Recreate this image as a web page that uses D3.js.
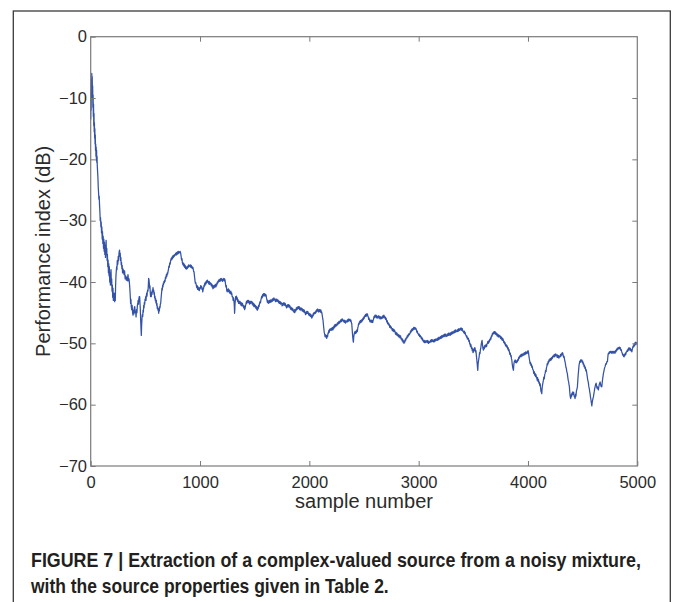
<!DOCTYPE html>
<html>
  <head>
    <meta charset="utf-8" />
    <title>Performance index</title>
    <script src="https://d3js.org/d3.v7.min.js"></script>
    <style>
        body{
            margin: 0;
            background: #fff;
        }
        text{
            font-family: "Liberation Sans", Arial, Helvetica, sans-serif;
        }
    </style>
  </head>
  <body>
    <svg id="vis"></svg>

    <script>
        // x ticks / y ticks
        var xTicks = [0, 1000, 2000, 3000, 4000, 5000];
        var yTicks = [0, -10, -20, -30, -40, -50, -60, -70];

        var xLabel = "sample number";
        var yLabel = "Performance index (dB)";
        var caption = [
            "FIGURE 7 | Extraction of a complex-valued source from a noisy mixture,",
            "with the source properties given in Table 2."
        ];

        // [sample number, performance index in dB]
        var trace = [
            [0,-13.5],[2,-9],[4,-12],[6,-7],[8,-10],[10,-6],[12,-8.5],[14,-6.5],[16,-10],[18,-8],[20,-11.5],[22,-9.5],[24,-13],[26,-11],[28,-14.5],[30,-12.5],[32,-15.5],[34,-14],[36,-16.5],[38,-15],[40,-17.5],[42,-16],[44,-18.5],[46,-17.5],[48,-19.5],[50,-18],[52,-20.2],[54,-18.5],[56,-20.5],[58,-19.5],[60,-21],[63,-22],[66,-23],[69,-24.5],[72,-25.5],[75,-26.5],[78,-26],[81,-27.5],[84,-28.5],[87,-30],[90,-29.5],[93,-31],[96,-30.2],[99,-32],[102,-31],[105,-33],[108,-31.8],[111,-33.7],[114,-32.5],[117,-34.5],[120,-33],[123,-35],[126,-33.5],[129,-35.5],[132,-34],[135,-36],[138,-34.5],[141,-33.2],[144,-35.5],[147,-34.5],[150,-36.5],[153,-35.5],[156,-37.5],[159,-36.4],[162,-38.5],[165,-37],[168,-39],[171,-37.5],[174,-40],[177,-38.5],[180,-40.5],[183,-39],[186,-38],[189,-40.5],[192,-39.5],[195,-41.5],[198,-40.5],[201,-42.5],[204,-41],[207,-43],[210,-42],[213,-43],[216,-41.8],[219,-43.2],[222,-42],[225,-43],[228,-40.5],[231,-39],[234,-38.2],[237,-37.5],[240,-38],[243,-36.5],[246,-37.2],[249,-36.9],[252,-35.8],[255,-36.5],[258,-35.5],[261,-35],[264,-34.8],[267,-35.8],[270,-35.3],[273,-36.5],[276,-36],[279,-37.2],[282,-36.8],[285,-37.8],[288,-37.3],[291,-38.5],[294,-37.8],[297,-38.5],
            [300,-38],[305,-38.8],[310,-38.2],[315,-39.5],[320,-39],[326,-39.7],[331,-39.2],[336,-39.8],[341,-38.8],[346,-39.8],[351,-39.5],[357,-40.8],[361,-42],[365,-43.5],[368,-42.8],[371,-44],[375,-44.5],[379,-43.8],[383,-45],[387,-45.4],[391,-44.6],[395,-45.2],[399,-44.2],[403,-44],[407,-45],[411,-44.8],[415,-45.7],[419,-44.5],[423,-45],[427,-43.8],[431,-43.5],[434,-43],[437,-43.6],[440,-42.8],[444,-42.4],[448,-42.4],[451,-43.5],[454,-44.5],[457,-46.2],[460,-47.5],[463,-48.7],[466,-47],[469,-46],[472,-45.3],[476,-45.6],[479,-44.6],[482,-44.9],[485,-43.8],[488,-44.2],[491,-43.3],[494,-43.6],[497,-42.8],[500,-43],[503,-42.4],[506,-43],[509,-42.2],[512,-41.8],[515,-42.3],[518,-41.6],[521,-41.3],[524,-41.5],[527,-40.6],[530,-39.4],[533,-39.6],[536,-40.2],[539,-41],[542,-40.6],[545,-41.8],[548,-42.4],[551,-41.8],[554,-42.4],[558,-41.6],[561,-42],[564,-41.3],[567,-41.6],[570,-40.9],[573,-41.5],[576,-41.3],[579,-42],[582,-41.7],[585,-42.6],[588,-42.3],[591,-43],[594,-42.7],[597,-43.4],[600,-43],[603,-43.8],[606,-43.5],[609,-44.3],[612,-44],[615,-44.6],[618,-44.3],[622,-45.1],[625,-44.4],[628,-44.7],[631,-44],[634,-44.2],[637,-43.6],[640,-43.5],[643,-42.8],[646,-42.2],[649,-41.6],[652,-41],[655,-41.3],[658,-40.5],[661,-40.8],[664,-40.2],[667,-40.4],[670,-39.9],[674,-40.1],[677,-39.7],[680,-39.9],[684,-39.2],[688,-39.4],[692,-38.8],[696,-39.1],
            [700,-38.5],[704,-38.7],[707,-38.3],[711,-38],[715,-37.4],[719,-37.6],[723,-36.9],[727,-37.1],[731,-36.5],[734,-36.3],[737,-36.1],[741,-36.4],[745,-35.9],[749,-36.2],[753,-35.7],[757,-36],[761,-35.6],[765,-35.8],[769,-35.5],[774,-35.6],[778,-35.3],[782,-35.6],[786,-35.2],[790,-35.5],[794,-35.1],[798,-35.4],[802,-35],[806,-35.3],[810,-35.1],[814,-35.2],[818,-35],[823,-35.3],[827,-35.8],[831,-36.4],[835,-36.2],[839,-36.9],[844,-37.2],[848,-36.9],[852,-37.4],[856,-37.1],[860,-37.6],[864,-37.3],[868,-37.8],[872,-37.5],[876,-37.9],[880,-37.6],[884,-37.8],[888,-37.4],[892,-37.6],[896,-37.2],[900,-37.5],[904,-37.3],[908,-37.4],[912,-37.2],[916,-37.6],[920,-37.3],[924,-37.7],[927,-37.5],[931,-37.8],[935,-37.6],[939,-38],[942,-38.3],[945,-38.3],[949,-39],[953,-39.6],[957,-40.2],[961,-40.1],[966,-40.5],[970,-40.9],[974,-40.6],[978,-41.2],[982,-40.8],[986,-41.3],[990,-41],[994,-41.4],[998,-40.9],
            [1002,-41.1],[1006,-40.6],[1010,-40.9],[1014,-40.7],[1018,-41.2],[1022,-41],[1025,-41.6],[1029,-41.2],[1033,-41],[1037,-40.5],[1040,-40.7],[1043,-40.2],[1047,-40.5],[1051,-40],[1055,-40.3],[1059,-39.8],[1063,-40.1],[1067,-39.7],[1071,-40],[1076,-39.9],[1080,-40.3],[1084,-39.9],[1088,-40.4],[1092,-40.1],[1098,-40.2],[1102,-40.6],[1106,-40.3],[1110,-40.8],[1114,-40.5],[1118,-41.1],[1122,-41],[1126,-40.6],[1130,-40.9],[1134,-40.5],[1138,-40.8],[1142,-40.4],[1146,-40.8],[1150,-40.3],[1154,-40.5],[1158,-40],[1162,-40.2],[1166,-39.8],[1170,-40],[1174,-39.6],[1177,-39.7],[1181,-39.9],[1185,-39.5],[1189,-39.8],[1193,-39.4],[1197,-39.7],[1201,-39.5],[1205,-39.9],[1209,-39.6],[1213,-39.7],[1217,-39.4],[1221,-39.8],[1225,-39.5],[1229,-39.7],[1233,-40.3],[1237,-40.8],[1241,-40.6],[1244,-41.3],[1248,-41.6],[1252,-41.2],[1256,-41.5],[1260,-41.1],[1264,-41.6],[1268,-41.3],[1271,-41.8],[1274,-41.6],[1278,-41.9],[1282,-41.5],[1286,-42],[1290,-41.8],[1294,-42.4],[1299,-42.4],[1303,-43],[1307,-42.6],[1311,-43.2],[1314,-44],[1316,-45.1],[1318,-44.6],[1320,-43.6],[1323,-43],[1326,-42.4],[1329,-42.7],[1333,-42.3],[1337,-42.9],[1341,-42.6],[1345,-43.2],[1349,-42.9],[1353,-43.5],[1357,-43.2],[1360,-43.5],[1364,-43.1],[1368,-43.6],[1372,-43.3],[1376,-43.8],[1380,-43.4],[1384,-43.9],[1388,-43.5],[1392,-43.9],[1396,-43.8],
            [1400,-44.2],[1404,-43.9],[1408,-44.5],[1412,-44.3],[1416,-43.9],[1420,-43.6],[1424,-43.2],[1428,-43.5],[1432,-43],[1436,-43.3],[1442,-43],[1446,-43.4],[1450,-43.1],[1454,-43.6],[1458,-43.2],[1462,-43.5],[1466,-43.1],[1470,-43.4],[1473,-43.2],[1477,-43.6],[1481,-43.3],[1485,-43.8],[1489,-43.5],[1493,-44],[1497,-43.6],[1500,-43.8],[1504,-44.1],[1508,-43.8],[1512,-44.3],[1516,-44],[1520,-44.5],[1524,-44.6],[1528,-44.1],[1532,-44.4],[1536,-43.8],[1540,-44],[1544,-43.5],[1549,-43.2],[1553,-43.4],[1557,-42.9],[1561,-42.6],[1565,-42.3],[1569,-42.6],[1574,-42],[1578,-42.3],[1582,-41.9],[1586,-42.2],[1590,-41.9],[1594,-42.3],[1598,-42],[1604,-42.1],[1608,-42.6],[1612,-42.9],[1616,-43.3],[1620,-43],[1625,-43.5],[1629,-43.1],[1633,-43.4],[1637,-43],[1641,-43.3],[1645,-42.9],[1649,-43.3],[1652,-43],[1656,-43.2],[1660,-42.8],[1664,-43.1],[1668,-42.7],[1672,-43],[1676,-42.6],[1680,-42.9],[1686,-42.8],[1690,-43.2],[1694,-42.8],[1698,-43.1],[1702,-42.8],[1706,-43.2],[1710,-42.9],[1716,-43],[1720,-43.4],[1724,-43.1],[1728,-43.5],[1732,-43.2],[1736,-43.6],[1740,-43.3],[1747,-43.5],[1751,-43.9],[1755,-43.5],[1759,-43.8],[1763,-43.4],[1767,-43.7],[1771,-43.4],[1775,-43.8],[1779,-43.5],[1783,-43.9],[1787,-43.8],[1791,-44.2],[1795,-43.8],[1799,-44.1],
            [1803,-43.7],[1807,-44],[1811,-43.7],[1815,-44.1],[1819,-43.8],[1823,-44],[1827,-44.4],[1831,-44.1],[1835,-44.5],[1839,-44.2],[1843,-44.6],[1847,-44.3],[1851,-44.7],[1854,-44.6],[1858,-44.9],[1862,-44.5],[1866,-45],[1869,-44.9],[1873,-44.5],[1877,-44.7],[1881,-44.2],[1885,-44.5],[1889,-44.1],[1893,-44.4],[1899,-44],[1903,-44.3],[1907,-44],[1911,-44.5],[1915,-44.2],[1919,-44.6],[1923,-44.2],[1927,-44.5],[1930,-44.3],[1934,-44.7],[1938,-44.4],[1942,-44.8],[1946,-44.5],[1950,-44.9],[1954,-44.6],[1958,-45],[1961,-44.9],[1965,-45.3],[1969,-44.9],[1973,-45.2],[1977,-44.8],[1981,-45.1],[1985,-44.8],[1991,-45.1],[1995,-45.4],[1999,-45.1],[2003,-45.5],[2007,-45.2],[2011,-45.6],[2015,-45.3],[2019,-45.7],[2022,-45.9],[2026,-45.5],[2030,-45.7],[2034,-45.2],[2038,-45.4],[2042,-45],[2046,-45.2],[2052,-44.9],[2056,-45.1],[2060,-44.7],[2064,-44.9],[2068,-44.5],[2072,-44.8],[2076,-44.4],[2082,-44.6],[2086,-44.9],[2090,-44.5],[2094,-44.8],[2098,-44.5],[2102,-44.9],[2106,-44.6],[2110,-45],[2113,-44.9],[2117,-45.3],[2121,-45.8],[2125,-46.2],[2128,-46.8],[2132,-47.5],[2136,-48.2],[2140,-48.5],[2144,-48.9],[2148,-48.6],[2152,-49],[2156,-48.7],[2159,-49.2],[2163,-48.7],[2167,-48.9],[2171,-48.3],[2174,-48.4],[2178,-47.9],[2182,-48.2],[2186,-47.7],[2190,-47.9],[2196,-47.6],
            [2200,-47.9],[2204,-47.5],[2208,-47.8],[2212,-47.4],[2216,-47.8],[2220,-47.6],[2224,-47.2],[2228,-47.5],[2232,-47],[2236,-47.3],[2240,-46.9],[2244,-47.2],[2251,-47],[2255,-46.7],[2259,-47],[2263,-46.6],[2267,-46.8],[2271,-46.4],[2275,-46.7],[2281,-46.5],[2285,-46.2],[2289,-46.5],[2293,-46.1],[2297,-46.4],[2301,-46],[2305,-46.3],[2311,-46.2],[2315,-46.5],[2319,-46.2],[2323,-46.6],[2327,-46.3],[2331,-46.7],[2335,-46.4],[2342,-46.5],[2346,-46.2],[2350,-46.5],[2354,-46.1],[2358,-46.4],[2362,-46],[2366,-46.3],[2372,-46.1],[2376,-46.4],[2380,-46.2],[2384,-46.6],[2388,-46.8],[2392,-47.8],[2396,-48.8],[2400,-49.5],[2403,-49.8],[2406,-49],[2410,-48.5],[2414,-48.2],[2418,-48.1],[2422,-48.4],[2426,-48],[2430,-48.3],[2435,-47.8],[2439,-48.1],[2443,-47.5],[2447,-47.2],[2451,-46.8],[2455,-46.9],[2458,-46.5],[2462,-46.7],[2466,-46.3],[2470,-46.6],[2474,-46.2],[2479,-46.5],[2483,-46.1],[2487,-46.3],[2491,-45.9],[2495,-46.1],[2499,-45.7],[2503,-45.9],[2507,-45.5],[2510,-45.6],[2514,-45.3],[2518,-45.6],[2522,-45.2],[2526,-45.5],[2531,-45.2],[2535,-45.5],[2539,-45.7],[2543,-46.1],[2547,-45.9],[2551,-46.3],[2555,-46.5],[2559,-46.2],[2563,-46.5],[2567,-46.2],[2571,-46.6],[2575,-46.3],[2580,-46.6],[2584,-46.2],[2588,-46],[2592,-45.6],[2596,-45.8],
            [2601,-45.4],[2605,-45.7],[2609,-45.4],[2613,-45.8],[2617,-45.5],[2621,-45.9],[2625,-45.6],[2631,-45.8],[2635,-45.5],[2639,-45.9],[2643,-45.6],[2647,-46],[2651,-45.7],[2656,-46],[2662,-45.9],[2666,-45.6],[2670,-45.9],[2674,-45.5],[2678,-45.8],[2682,-45.4],[2686,-45.6],[2690,-45.9],[2694,-45.7],[2698,-46.1],[2702,-45.9],[2708,-46.5],[2712,-46.3],[2716,-46.8],[2720,-46.6],[2724,-47],[2728,-46.8],[2732,-47],[2736,-47.4],[2740,-47.1],[2744,-47.5],[2748,-47.3],[2754,-47.6],[2758,-47.9],[2762,-47.6],[2766,-48],[2770,-47.7],[2774,-48.1],[2778,-47.8],[2784,-48.1],[2788,-48.5],[2792,-48.2],[2796,-48.6],[2800,-48.3],[2804,-48.7],[2808,-48.5],[2814,-48.9],[2818,-48.6],[2822,-49],[2826,-48.7],[2830,-49.1],[2834,-48.8],[2840,-49.3],[2845,-49.2],[2849,-49.6],[2853,-49.3],[2857,-49.8],[2861,-49.6],[2866,-50],[2870,-49.6],[2874,-49.8],[2878,-49.3],[2882,-49.5],[2886,-49.1],[2891,-49.2],[2895,-48.8],[2899,-49],[2903,-48.6],[2907,-48.8],[2911,-48.4],[2915,-48.6],[2921,-48.4],[2925,-48],[2929,-48.2],[2933,-47.8],[2937,-48],[2941,-47.6],[2945,-47.9],[2951,-47.7],[2955,-47.4],[2959,-47.7],[2963,-47.4],[2967,-47.7],[2971,-47.5],[2976,-47.6],[2980,-47.9],[2984,-48.2],[2988,-48],[2992,-48.4],[2997,-48.4],
            [3001,-48.7],[3005,-48.5],[3009,-48.9],[3013,-48.7],[3019,-48.9],[3023,-49.2],[3027,-49],[3031,-49.4],[3035,-49.2],[3039,-49.6],[3043,-49.5],[3047,-49.8],[3051,-49.5],[3055,-49.9],[3059,-49.6],[3063,-49.9],[3067,-49.6],[3074,-49.8],[3078,-49.5],[3082,-49.9],[3086,-49.6],[3090,-50],[3094,-49.7],[3098,-49.9],[3104,-49.8],[3108,-49.5],[3112,-49.8],[3116,-49.4],[3120,-49.7],[3124,-49.4],[3128,-49.7],[3135,-49.5],[3139,-49.8],[3143,-49.4],[3147,-49.7],[3151,-49.3],[3155,-49.6],[3159,-49.3],[3166,-49.5],[3170,-49.2],[3174,-49.5],[3178,-49.1],[3182,-49.4],[3186,-49],[3190,-49.3],[3196,-49.2],[3200,-48.9],[3204,-49.2],[3208,-48.8],[3212,-49.1],[3216,-48.7],[3220,-49],[3226,-48.9],[3230,-48.6],[3234,-48.9],[3238,-48.5],[3242,-48.8],[3246,-48.5],[3250,-48.9],[3257,-48.8],[3261,-48.5],[3265,-48.8],[3269,-48.4],[3273,-48.7],[3277,-48.3],[3281,-48.6],[3287,-48.7],[3291,-48.3],[3295,-48.6],[3299,-48.2],[3303,-48.5],[3307,-48.1],[3311,-48.4],[3318,-48.3],[3322,-48],[3326,-48.3],[3330,-47.9],[3334,-48.2],[3338,-47.8],[3342,-48.1],[3349,-48.1],[3353,-47.8],[3357,-48.1],[3361,-47.7],[3365,-48],[3369,-47.6],[3373,-47.9],[3379,-47.8],[3383,-47.5],[3387,-47.8],[3391,-47.5],[3395,-47.9],[3399,-47.6],
            [3403,-48],[3409,-48],[3413,-48.3],[3417,-48],[3421,-48.4],[3425,-48.2],[3429,-48.6],[3434,-48.7],[3438,-49],[3442,-48.8],[3446,-49.3],[3450,-49.1],[3455,-49.2],[3459,-49.7],[3463,-49.5],[3467,-50.1],[3470,-50],[3474,-50.5],[3478,-50.2],[3482,-50.8],[3486,-50.6],[3490,-51.2],[3494,-50.9],[3497,-51.5],[3501,-51.4],[3505,-50.9],[3509,-51.2],[3513,-50.7],[3516,-50.8],[3520,-51.4],[3524,-51.2],[3528,-52],[3532,-52.7],[3536,-53.5],[3539,-54.1],[3541,-54.4],[3544,-53.3],[3548,-52.8],[3553,-52.2],[3557,-51.5],[3561,-51.7],[3565,-51],[3568,-50.8],[3572,-50.2],[3576,-49.8],[3580,-49.5],[3584,-50.3],[3588,-50.8],[3592,-51.1],[3596,-50.6],[3600,-50.9],[3604,-50.4],[3610,-50.3],[3614,-50.6],[3618,-50.2],[3622,-50.5],[3625,-50.1],[3629,-50],[3633,-49.7],[3637,-50],[3641,-49.6],[3645,-49.8],[3649,-49.4],[3653,-49.5],[3657,-49.1],[3661,-49.3],[3665,-48.8],[3669,-48.9],[3674,-48.4],[3678,-48.6],[3682,-48.2],[3686,-48.4],[3690,-48.1],[3694,-48.4],[3698,-48.1],[3702,-48.5],[3706,-48.2],[3710,-48.6],[3714,-48.4],[3718,-48.8],[3722,-48.5],[3726,-48.9],[3730,-48.6],[3734,-49],[3738,-48.7],[3745,-48.8],[3749,-49.2],[3753,-48.9],[3757,-49.3],[3761,-49.1],[3765,-49.5],[3769,-49.2],[3775,-49.5],[3779,-49.9],[3783,-49.7],[3787,-50.1],[3791,-49.9],[3795,-50.4],[3800,-50.2],
            [3806,-50.6],[3810,-50.4],[3814,-50.9],[3818,-50.7],[3822,-51.2],[3826,-51],[3830,-51.4],[3834,-51.8],[3838,-51.6],[3842,-52.1],[3846,-52],[3849,-52.5],[3852,-52.7],[3856,-53.4],[3860,-53.9],[3864,-54.2],[3867,-54.4],[3870,-53.6],[3874,-53],[3878,-52.9],[3882,-52.7],[3886,-53.1],[3890,-52.8],[3894,-53.2],[3898,-52.9],[3903,-53],[3907,-52.6],[3911,-52.8],[3915,-52.3],[3919,-52.5],[3923,-52.1],[3928,-52.2],[3932,-51.9],[3936,-52.2],[3940,-51.8],[3944,-52.1],[3948,-51.7],[3952,-52],[3958,-51.9],[3962,-51.6],[3966,-51.9],[3970,-51.5],[3974,-51.8],[3978,-51.4],[3982,-51.7],[3989,-51.6],[3993,-51.3],[3997,-51.6],[4001,-51.2],[4004,-51.4],[4008,-52],[4012,-52.5],[4016,-52.9],[4019,-53.3],[4023,-53.1],[4027,-53.6],[4031,-53.4],[4035,-53.9],[4039,-53.7],[4043,-54.2],[4049,-54.4],[4053,-54.9],[4057,-54.6],[4061,-55.2],[4065,-54.9],[4069,-55.4],[4073,-55.1],[4077,-55.6],[4080,-55.5],[4084,-56],[4088,-55.6],[4092,-56.2],[4096,-55.9],[4100,-56.5],[4104,-56.3],[4108,-56.9],[4112,-56.6],[4116,-57.4],[4120,-57.9],[4123,-57.5],[4126,-58.2],[4129,-57.4],[4133,-56.8],[4137,-56.4],[4141,-56],[4145,-55.5],[4149,-55.8],[4153,-55.1],[4157,-54.9],[4161,-54.4],[4165,-54.6],[4169,-54],[4172,-53.8],[4176,-53.3],[4180,-53.5],[4184,-53],[4188,-53.2],[4192,-52.7],[4196,-52.9],
            [4202,-52.5],[4206,-52.8],[4210,-52.4],[4214,-52.7],[4218,-52.3],[4222,-52.5],[4226,-52.1],[4233,-52.2],[4237,-51.9],[4241,-52.2],[4245,-51.8],[4249,-52.1],[4253,-51.7],[4257,-52],[4263,-51.9],[4267,-52.3],[4271,-51.9],[4275,-52.3],[4279,-52],[4283,-52.4],[4287,-52.1],[4294,-52.2],[4298,-51.8],[4302,-52.1],[4306,-51.7],[4310,-51.9],[4314,-51.5],[4318,-51.6],[4322,-52],[4326,-52.3],[4330,-52.1],[4334,-52.6],[4339,-53],[4343,-53.4],[4347,-53.9],[4351,-54.1],[4355,-54.6],[4360,-54.9],[4364,-55.5],[4368,-56],[4372,-56.3],[4376,-56.8],[4379,-57.1],[4382,-57.9],[4385,-58.5],[4388,-58.8],[4391,-59],[4394,-58.4],[4398,-58.7],[4402,-58.1],[4406,-58.4],[4410,-57.9],[4414,-58.3],[4418,-58],[4422,-58.6],[4426,-58.7],[4431,-59],[4435,-58.3],[4439,-58.6],[4443,-57.8],[4447,-57.5],[4452,-57.1],[4456,-56],[4460,-55],[4464,-54.2],[4467,-53.6],[4470,-53.3],[4474,-52.9],[4478,-53.1],[4482,-52.7],[4486,-52.9],[4492,-52.7],[4496,-53.1],[4500,-52.9],[4504,-53.4],[4508,-53.2],[4513,-53.8],[4517,-53.6],[4521,-54.1],[4525,-53.9],[4529,-54.5],[4533,-54.3],[4538,-54.9],[4542,-55.4],[4546,-55.9],[4550,-56.2],[4553,-56.5],[4557,-57.1],[4561,-57.4],[4565,-57.9],[4568,-58.2],[4572,-58.8],[4576,-59.2],[4580,-59.7],[4584,-60.2],[4588,-59.6],[4592,-59.2],[4596,-58.9],
            [4599,-58.7],[4603,-58.2],[4607,-57.8],[4611,-57.3],[4615,-57],[4619,-56.7],[4623,-56.5],[4627,-56.9],[4631,-57.3],[4635,-57.1],[4639,-57.4],[4644,-57.6],[4648,-57.1],[4652,-56.7],[4656,-56.5],[4660,-56.3],[4664,-56.7],[4668,-57],[4672,-56.8],[4675,-57.1],[4679,-56.4],[4683,-55.8],[4687,-55.3],[4690,-54.9],[4694,-54.6],[4698,-54.2],[4701,-54],[4705,-53.8],[4709,-53.5],[4713,-53.3],[4717,-53.4],[4721,-53],[4727,-53],[4730,-52.3],[4733,-51.8],[4736,-51.6],[4740,-51.7],[4744,-51.4],[4748,-51.6],[4752,-51.3],[4758,-51.4],[4762,-51.6],[4766,-51.3],[4770,-51.6],[4774,-51.3],[4778,-51.6],[4782,-51.3],[4786,-51.6],[4790,-51.3],[4797,-51.6],[4801,-51.2],[4805,-51.4],[4809,-51],[4813,-51.2],[4817,-50.8],[4821,-51],[4825,-50.7],[4829,-50.9],[4836,-50.6],[4840,-50.9],[4844,-50.7],[4848,-51.1],[4852,-51],[4858,-51.4],[4862,-51.6],[4866,-51.9],[4870,-51.8],[4874,-52.1],[4879,-52.2],[4883,-51.8],[4887,-52],[4891,-51.6],[4895,-51.8],[4899,-51.4],[4904,-51.4],[4908,-51.1],[4912,-51.3],[4916,-50.9],[4920,-51.1],[4924,-50.7],[4928,-50.8],[4932,-51.1],[4936,-50.8],[4940,-51.2],[4944,-51],[4950,-51.4],[4954,-51],[4958,-50.7],[4962,-50.4],[4966,-50.6],[4971,-50.1],[4975,-50.4],[4979,-49.9],[4983,-50.2],[4987,-49.8],[4991,-50.1],[4995,-49.9],[5000,-50.2]
        ];

        var width = 673, height = 602;
        var plot = {left: 90.7, right: 637.3, top: 36.7, bottom: 466};

        var svg = d3.select("#vis").attr("width", width).attr("height", height);

        // outer frame of the figure (bottom runs off the page)
        svg.append("rect")
            .attr("x", 13.3).attr("y", 11)
            .attr("width", 657).attr("height", 620)
            .attr("fill", "none")
            .attr("stroke", "#3a3a3a")
            .attr("stroke-width", 1.3);

        var x = d3.scaleLinear().domain([0, 5000]).range([plot.left, plot.right]);
        var y = d3.scaleLinear().domain([-70, 0]).range([plot.bottom, plot.top]);

        var axisColor = "#7a7a7a";

        // data line
        var line = d3.line()
            .x(function(d) { return x(d[0]); })
            .y(function(d) { return y(d[1]); });

        svg.append("path")
            .datum(trace)
            .attr("d", line)
            .attr("fill", "none")
            .attr("stroke", "#3352a8")
            .attr("stroke-width", 1.25)
            .attr("stroke-linejoin", "round");

        // axes, ticks pointing inwards like matlab
        var gx = svg.append("g")
            .attr("transform", "translate(0," + plot.bottom + ")")
            .call(d3.axisBottom(x).tickValues(xTicks).tickFormat(d3.format("d"))
                .tickSizeInner(-5).tickSizeOuter(0).tickPadding(10));

        var gy = svg.append("g")
            .attr("transform", "translate(" + plot.left + ",0)")
            .call(d3.axisLeft(y).tickValues(yTicks)
                .tickSizeInner(-5).tickSizeOuter(0).tickPadding(3.7));

        var gt = svg.append("g")
            .attr("transform", "translate(0," + plot.top + ")")
            .call(d3.axisTop(x).tickValues(xTicks.slice(1, -1)).tickFormat("")
                .tickSizeInner(-5).tickSizeOuter(0));

        var gr = svg.append("g")
            .attr("transform", "translate(" + plot.right + ",0)")
            .call(d3.axisRight(y).tickValues(yTicks.slice(1, -1)).tickFormat("")
                .tickSizeInner(-5).tickSizeOuter(0));

        [gx, gy, gt, gr].forEach(function(g) {
            g.select(".domain").remove();
            g.selectAll(".tick line").attr("stroke", axisColor).attr("stroke-width", 1);
            g.selectAll(".tick text")
                .attr("fill", "#2b2b2b")
                .style("font-size", "16.5px")
                .style("font-family", "'Liberation Sans', Arial, sans-serif");
        });

        // axes box
        svg.append("rect")
            .attr("x", plot.left).attr("y", plot.top)
            .attr("width", plot.right - plot.left)
            .attr("height", plot.bottom - plot.top)
            .attr("fill", "none")
            .attr("stroke", axisColor)
            .attr("stroke-width", 1.2);

        // axis titles
        svg.append("text")
            .attr("x", (plot.left + plot.right) / 2)
            .attr("y", 508)
            .attr("text-anchor", "middle")
            .attr("fill", "#2b2b2b")
            .style("font-size", "20px")
            .text(xLabel);

        svg.append("text")
            .attr("transform", "translate(50," + (plot.top + plot.bottom) / 2 + ") rotate(-90)")
            .attr("text-anchor", "middle")
            .attr("fill", "#2b2b2b")
            .style("font-size", "20px")
            .text(yLabel);

        // caption: bold, squeezed horizontally to look condensed
        var capWidths = [610, 358];
        svg.selectAll("text.caption")
            .data(caption)
            .enter().append("text")
            .attr("class", "caption")
            .attr("fill", "#231f20")
            .style("font-family", "'Liberation Sans Narrow', 'Arial Narrow', 'Liberation Sans', sans-serif")
            .style("font-weight", "bold")
            .style("font-size", "19.5px")
            .text(function(d) { return d; })
            .attr("transform", function(d, i) {
                var w = this.getComputedTextLength();
                var sx = capWidths[i] / w;
                return "translate(31," + (566.5 + i * 26) + ") scale(" + sx + ",1)";
            });
    </script>
  </body>
</html>
